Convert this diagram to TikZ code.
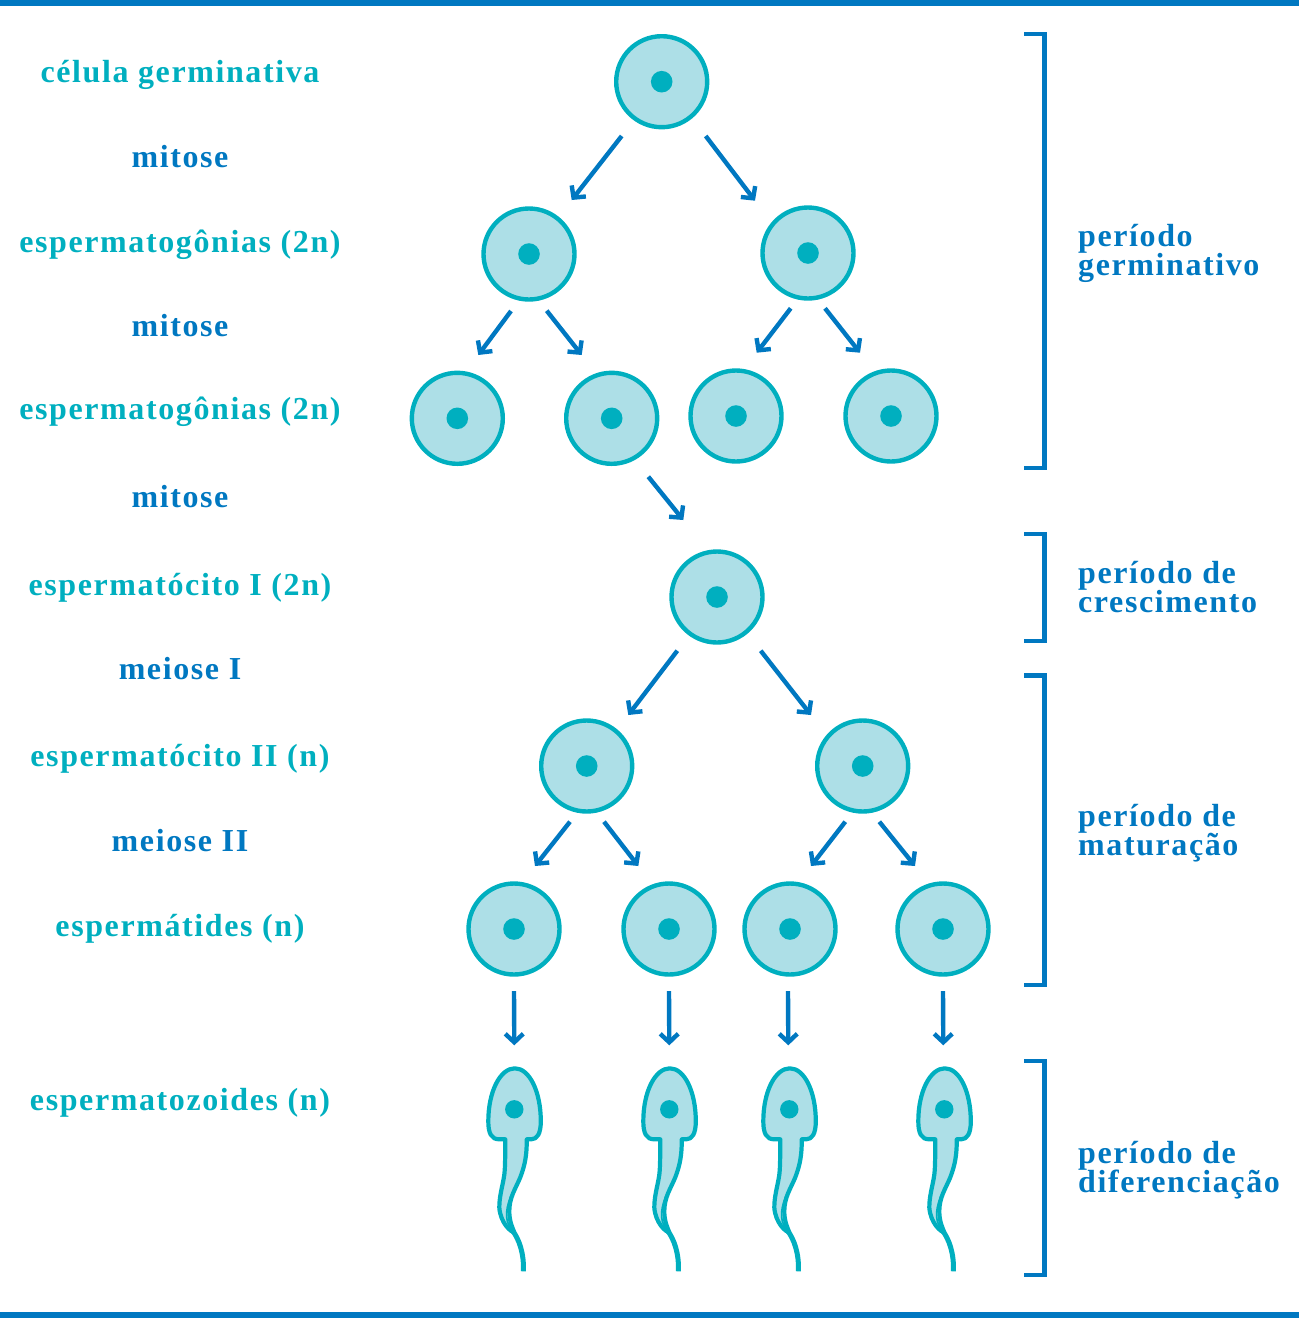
\documentclass[tikz,border=0pt]{standalone}
\usepackage{fontspec}
\usetikzlibrary{arrows.meta}
\newfontfamily\labfont{Liberation Serif}[UprightFont=* Bold, LetterSpace=5]
\definecolor{cyanL}{HTML}{00AFBF}
\definecolor{fillL}{HTML}{ADDFE7}
\definecolor{blueD}{HTML}{0078C1}
\tikzset{
  cell/.style={circle, draw=cyanL, fill=fillL, line width=4.4pt, minimum size=91pt, inner sep=0pt,
    path picture={\fill[cyanL] (path picture bounding box.center) circle (10.8pt);}},
  arr/.style={draw=blueD, line width=4.4pt, -{Straight Barb[length=8.5pt,width=18pt]}},
  lab/.style={anchor=base, inner sep=0pt, font=\labfont\fontsize{32}{32}\selectfont},
  rlab/.style={anchor=base west, inner sep=0pt, text=blueD, font=\labfont\fontsize{32}{32}\selectfont},
  brk/.style={draw=blueD, line width=4.3pt, line join=miter},
  sperm/.pic={
    \draw[draw=cyanL, fill=fillL, line width=4.2pt, line join=round]
      (-9,30) -- (-15,30) .. controls (-23,30) and (-26,24) .. (-26,12)
      .. controls (-26,-18) and (-14,-41) .. (0.5,-41)
      .. controls (15,-41) and (26.5,-18) .. (26.5,12)
      .. controls (26.5,24) and (23,30) .. (17,30) -- (12.5,30)
      .. controls (12.5,45) and (11,55) .. (6,68)
      .. controls (1,80) and (-5,88) .. (-5,102)
      .. controls (-5,112) and (-2,118) .. (0,123)
      .. controls (-3,123) and (-14,114) .. (-15,98)
      .. controls (-15,84) and (-10,72) .. (-9.5,60)
      .. controls (-9,48) and (-9,40) .. (-9,30) -- cycle;
    \draw[cyanL, line width=1.6pt] (4,72) .. controls (-4,86) and (-10,100) .. (-7,112) .. controls (-5,118) and (-2,121) .. (0,123);
    \draw[cyanL, line width=5pt] (-2,121) .. controls (5,130) and (10,145) .. (9,162);
    \fill[cyanL] (0,0) circle (9.2pt);
  }
}
\begin{document}
\begin{tikzpicture}[x=1pt,y=-1pt]
\useasboundingbox (0,0) rectangle (1299,1318);
\fill[blueD] (0,0) rectangle (1299,6);
\fill[blueD] (0,1312) rectangle (1299,1318);

% left labels
\node[lab, text=cyanL] (t1) at (180,82) {célula germinativa};
\node[lab, text=blueD] (t2) at (180,167) {mitose};
\node[lab, text=cyanL] (t3) at (180,252) {espermatogônias (2n)};
\node[lab, text=blueD] (t4) at (180,336) {mitose};
\node[lab, text=cyanL] (t5) at (180,419) {espermatogônias (2n)};
\node[lab, text=blueD] (t6) at (180,507) {mitose};
\node[lab, text=cyanL] (t7) at (180,595) {espermatócito I (2n)};
\node[lab, text=blueD] (t8) at (180,679) {meiose I};
\node[lab, text=cyanL] (t9) at (180,766) {espermatócito II (n)};
\node[lab, text=blueD] (t10) at (180,851) {meiose II};
\node[lab, text=cyanL] (t11) at (180,936) {espermátides (n)};
\node[lab, text=cyanL] (t12) at (180,1110) {espermatozoides (n)};

% cells
\node[cell] (c1) at (661.7,81.7) {};
\node[cell] (a) at (529,254) {};
\node[cell] (b) at (808,253) {};
\node[cell] (ra) at (457.3,418.3) {};
\node[cell] (rb) at (611.7,418.3) {};
\node[cell] (rc) at (736,416) {};
\node[cell] (rd) at (891,416) {};
\node[cell] (g) at (717,597) {};
\node[cell] (m1) at (586.7,766) {};
\node[cell] (m2) at (862.7,766) {};
\node[cell] (s1) at (514,929) {};
\node[cell] (s2) at (669,929) {};
\node[cell] (s3) at (790,929) {};
\node[cell] (s4) at (943,929) {};

% sperm
\coordinate (z1) at (514.3,1109.3);
\coordinate (z2) at (669.3,1109.3);
\coordinate (z3) at (789.3,1109.3);
\coordinate (z4) at (944.3,1109.3);
\foreach \z in {z1,z2,z3,z4} {\pic at (\z) {sperm};}

% arrows
\draw[arr] ([shift={(-40,54.3)}]c1.center) -- ([shift={(42.7,-54)}]a.center);
\draw[arr] ([shift={(44,54.3)}]c1.center) -- ([shift={(-53,-52.3)}]b.center);
\draw[arr] ([shift={(-18,57)}]a.center) -- ([shift={(21,-63.3)}]ra.center);
\draw[arr] ([shift={(17.7,56.7)}]a.center) -- ([shift={(-30,-63.3)}]rb.center);
\draw[arr] ([shift={(-17.3,55.3)}]b.center) -- ([shift={(20.7,-63.3)}]rc.center);
\draw[arr] ([shift={(17,55.3)}]b.center) -- ([shift={(-31,-63.3)}]rd.center);
\draw[arr] ([shift={(36.6,58.4)}]rb.center) -- ([shift={(-33.7,-77)}]g.center);
\draw[arr] ([shift={(-39.7,53.7)}]g.center) -- ([shift={(41.6,-51)}]m1.center);
\draw[arr] ([shift={(43.7,53.7)}]g.center) -- ([shift={(-51.7,-51)}]m2.center);
\draw[arr] ([shift={(-16.7,55.7)}]m1.center) -- ([shift={(21,-63)}]s1.center);
\draw[arr] ([shift={(17.3,55.7)}]m1.center) -- ([shift={(-30.7,-63)}]s2.center);
\draw[arr] ([shift={(-17.4,55.7)}]m2.center) -- ([shift={(21,-63)}]s3.center);
\draw[arr] ([shift={(16.6,55.7)}]m2.center) -- ([shift={(-28,-63)}]s4.center);
\draw[arr] ([shift={(0,62)}]s1.center) -- ([shift={(0,-64)}]z1);
\draw[arr] ([shift={(0,62)}]s2.center) -- ([shift={(0,-64)}]z2);
\draw[arr] ([shift={(-2,62)}]s3.center) -- ([shift={(-1,-64)}]z3);
\draw[arr] ([shift={(0,62)}]s4.center) -- ([shift={(-1,-64)}]z4);

% brackets
\draw[brk] (1024,34.2) -- (1044.5,34.2) -- (1044.5,468) -- (1024,468);
\draw[brk] (1024,534) -- (1044.5,534) -- (1044.5,641) -- (1024,641);
\draw[brk] (1024,675.5) -- (1044.5,675.5) -- (1044.5,985) -- (1024,985);
\draw[brk] (1024,1061) -- (1044.5,1061) -- (1044.5,1274.7) -- (1024,1274.7);

% right labels
\node[rlab] (p1a) at (1078,246) {período};
\node[rlab] (p1b) at (1078,275) {germinativo};
\node[rlab] (p2a) at (1078,583) {período de};
\node[rlab] (p2b) at (1078,612) {crescimento};
\node[rlab] (p3a) at (1078,826) {período de};
\node[rlab] (p3b) at (1078,855) {maturação};
\node[rlab] (p4a) at (1078,1163) {período de};
\node[rlab] (p4b) at (1078,1192) {diferenciação};
\end{tikzpicture}
\end{document}
